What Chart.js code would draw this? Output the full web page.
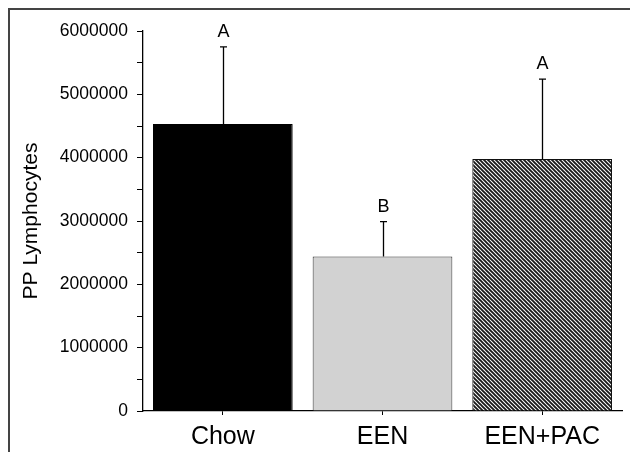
<!DOCTYPE html>
<html>
<head>
<meta charset="utf-8">
<script src="https://cdn.jsdelivr.net/npm/chart.js@4.4.1/dist/chart.umd.min.js"></script>
<style>
  html, body { margin: 0; padding: 0; background: #fff; }
  #wrap { position: relative; width: 630px; height: 452px; overflow: hidden; }
  #frame { position: absolute; left: 8px; top: 8px; right: -10px; bottom: -10px;
           border-left: 2px solid #444; border-top: 2px solid #444; }
  #c { position: absolute; left: 0; top: 0; }
</style>
</head>
<body>
<div id="wrap">
  <div id="frame"></div>
  <canvas id="c" width="630" height="452"></canvas>
</div>
<script>
// values
const categories = ['Chow', 'EEN', 'EEN+PAC'];
const means = [4530000, 2440000, 3980000];
const errUp = [1220000, 550000, 1260000];
const letters = ['A', 'B', 'A'];

const FONT = "'Liberation Sans', Arial, sans-serif";

// dense diagonal hatch for the EEN+PAC bar
function hatch() {
  const p = document.createElement('canvas');
  p.width = 4; p.height = 4;
  const g = p.getContext('2d');
  g.fillStyle = '#fff';
  g.fillRect(0, 0, 4, 4);
  g.strokeStyle = '#1a1a1a';
  g.lineWidth = 1.9;
  g.beginPath();
  g.moveTo(-1, -1); g.lineTo(5, 5);
  g.moveTo(3, -1); g.lineTo(5, 1);
  g.moveTo(-1, 3); g.lineTo(1, 5);
  g.stroke();
  return g.createPattern(p, 'repeat');
}

const ctx = document.getElementById('c').getContext('2d');

// upward error bars + significance letters, positioned through the chart scales
const errorBars = {
  id: 'errorBars',
  afterDatasetsDraw(chart) {
    const { ctx } = chart;
    const y = chart.scales.y;
    const meta = chart.getDatasetMeta(0);
    ctx.save();
    ctx.strokeStyle = '#000';
    ctx.lineWidth = 1.3;
    meta.data.forEach((bar, i) => {
      const x = Math.round(bar.x) + 0.5;
      const yTop = y.getPixelForValue(means[i] + errUp[i]);
      const yBar = y.getPixelForValue(means[i]);
      ctx.beginPath();
      ctx.moveTo(x, yBar);
      ctx.lineTo(x, yTop);
      ctx.moveTo(x - 3.5, yTop);
      ctx.lineTo(x + 3.5, yTop);
      ctx.stroke();
      ctx.fillStyle = '#000';
      ctx.font = '18px ' + FONT;
      ctx.textAlign = 'center';
      ctx.textBaseline = 'middle';
      ctx.fillText(letters[i], x, yTop - 15);
    });
    ctx.restore();
  }
};

new Chart(ctx, {
  type: 'bar',
  data: {
    labels: categories,
    datasets: [{
      data: means,
      backgroundColor: ['#000000', '#d2d2d2', hatch()],
      borderColor: ['#000000', '#333333', '#111111'],
      borderWidth: 1,
      barPercentage: 0.875,
      categoryPercentage: 1
    }]
  },
  options: {
    responsive: false,
    animation: false,
    layout: { padding: { left: 0, right: 8, top: 31, bottom: 0 } },
    plugins: { legend: { display: false }, tooltip: { enabled: false } },
    scales: {
      x: {
        afterFit: s => { s.height = 41; },
        grid: { display: true, drawOnChartArea: false, offset: false, tickLength: 4, color: '#000' },
        border: { display: true, color: '#000', width: 1.3 },
        ticks: { color: '#000', padding: 10, font: { family: FONT, size: 25, lineHeight: 1 } }
      },
      y: {
        min: 0,
        max: 6000000,
        afterFit: s => { s.width = 143; },
        grid: { display: true, drawOnChartArea: false, tickLength: 6, color: '#000' },
        border: { display: true, color: '#000', width: 1.3 },
        ticks: {
          stepSize: 500000,
          autoSkip: false,
          color: '#000',
          padding: 9,
          font: { family: FONT, size: 17.5 },
          callback: v => (v % 1000000 === 0 ? String(v) : '')
        },
        title: {
          display: true,
          text: 'PP Lymphocytes',
          color: '#000',
          font: { family: FONT, size: 21, lineHeight: 1.2 },
          padding: { top: 19, bottom: 0 }
        }
      }
    }
  },
  plugins: [errorBars]
});
</script>
</body>
</html>
